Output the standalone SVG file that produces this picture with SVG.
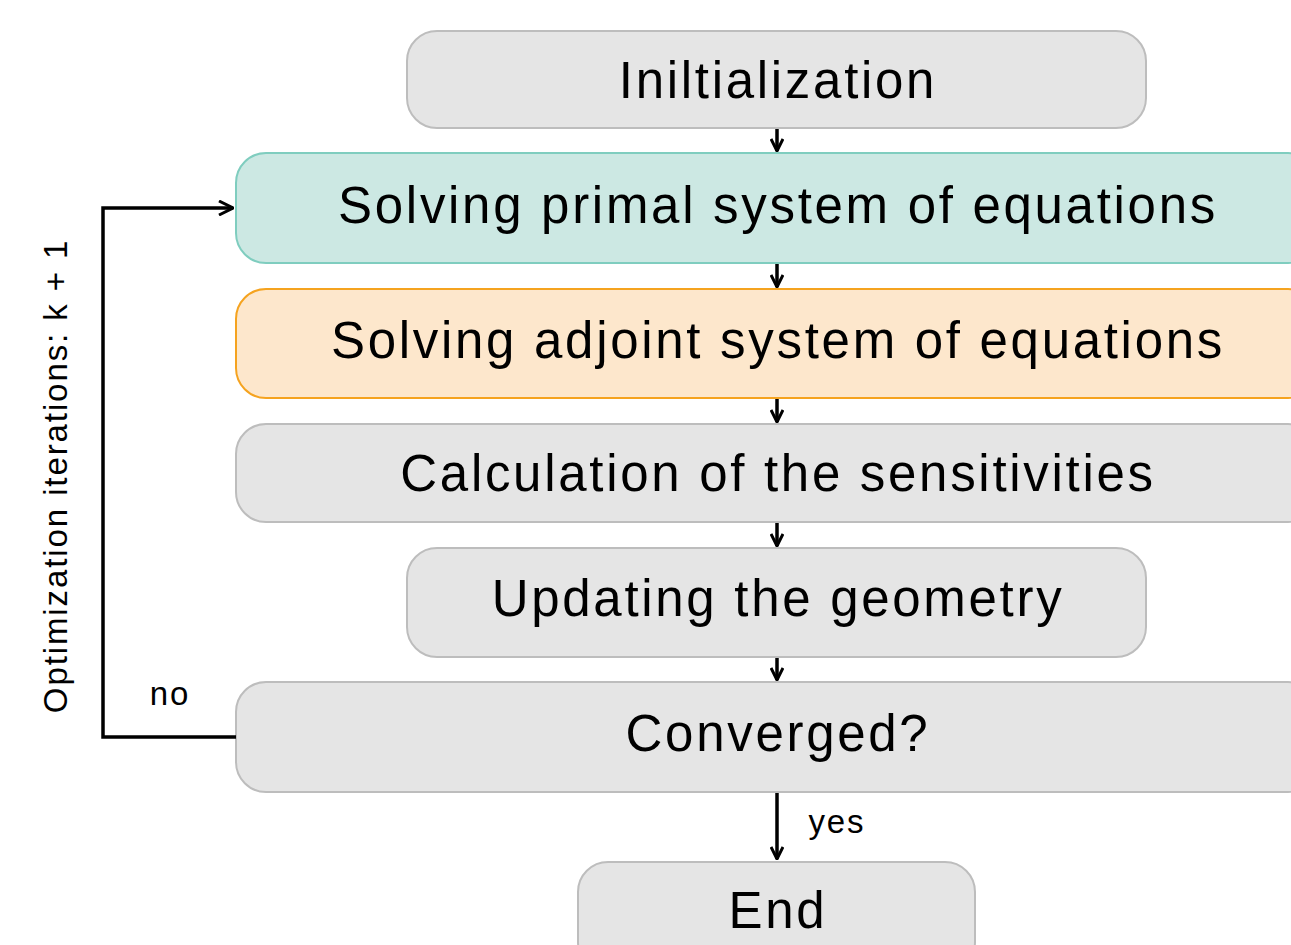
<svg xmlns="http://www.w3.org/2000/svg" width="1291" height="945" viewBox="0 0 1291 945">
<defs>
<style>
.gray{fill:#e5e5e5;stroke:#bdbdbd;stroke-width:2}
.teal{fill:#cce8e3;stroke:#7fcdbf;stroke-width:2}
.orange{fill:#fde7cc;stroke:#f5a31f;stroke-width:2}
.t{font-family:"Liberation Sans",Arial,sans-serif;font-size:51px;letter-spacing:2.7px;fill:#000;text-anchor:middle;dominant-baseline:central}
.s{font-family:"Liberation Sans",Arial,sans-serif;font-size:33px;letter-spacing:1.9px;fill:#000;text-anchor:middle}
.c{fill:none;stroke:#000;stroke-width:3.5}
</style>
<marker id="ah" viewBox="0 0 14 14" refX="13" refY="7" markerWidth="14" markerHeight="14" markerUnits="userSpaceOnUse" orient="auto">
<path d="M1,1 L13,7 L1,13" fill="none" stroke="#000" stroke-width="3"/>
</marker>
<marker id="ah2" viewBox="0 0 16 16" refX="15" refY="8" markerWidth="16" markerHeight="16" markerUnits="userSpaceOnUse" orient="auto">
<path d="M1,1 L15,8 L1,15" fill="none" stroke="#000" stroke-width="3"/>
</marker>
</defs>
<rect width="1291" height="945" fill="#fff"/>
<g id="n1"><rect class="gray" x="407" y="31" width="739" height="97" rx="30"/><text class="t" x="778" y="80">Iniltialization</text></g>
<g id="n2"><rect class="teal" x="236" y="153" width="1082" height="110" rx="30"/><text class="t" x="778" y="205">Solving primal system of equations</text></g>
<g id="n3"><rect class="orange" x="236" y="289" width="1082" height="109" rx="30"/><text class="t" x="778" y="340">Solving adjoint system of equations</text></g>
<g id="n4"><rect class="gray" x="236" y="424" width="1082" height="98" rx="30"/><text class="t" x="778" y="473">Calculation of the sensitivities</text></g>
<g id="n5"><rect class="gray" x="407" y="548" width="739" height="109" rx="30"/><text class="t" x="778" y="598">Updating the geometry</text></g>
<g id="n6"><rect class="gray" x="236" y="682" width="1082" height="110" rx="30"/><text class="t" x="778" y="733">Converged?</text></g>
<g id="n7"><rect class="gray" x="578" y="862" width="397" height="110" rx="30"/><text class="t" x="778" y="910">End</text></g>
<g id="connectors">
<line class="c" x1="777" y1="129" x2="777" y2="151" marker-end="url(#ah)"/>
<line class="c" x1="777" y1="264" x2="777" y2="287" marker-end="url(#ah)"/>
<line class="c" x1="777" y1="399" x2="777" y2="422" marker-end="url(#ah)"/>
<line class="c" x1="777" y1="523" x2="777" y2="546" marker-end="url(#ah)"/>
<line class="c" x1="777" y1="658" x2="777" y2="680" marker-end="url(#ah)"/>
<line class="c" x1="777" y1="793" x2="777" y2="859" marker-end="url(#ah)"/>
<polyline class="c" points="236,737 103,737 103,208 233,208" marker-end="url(#ah2)"/>
<text class="s" x="170" y="705">no</text>
<text class="s" x="837" y="833">yes</text>
<text class="s" x="0" y="0" transform="translate(67,476) rotate(-90)">Optimization iterations: k + 1</text>
</g>
</svg>
